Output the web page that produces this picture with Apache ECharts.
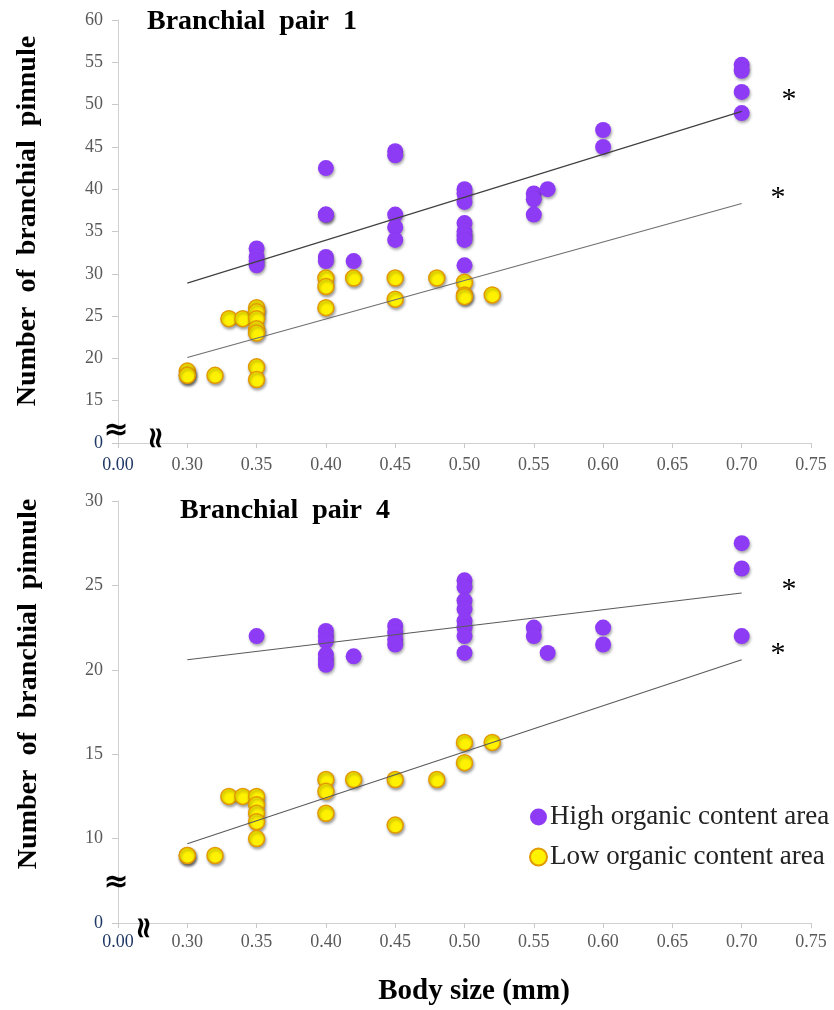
<!DOCTYPE html>
<html><head><meta charset="utf-8">
<script src="https://cdn.jsdelivr.net/npm/echarts@6/dist/echarts.min.js"></script>
<style>html,body{margin:0;padding:0;background:#fff}#c{width:834px;height:1010px}</style>
</head><body><div id="c"></div>
<script>
// ---------- data ----------
const seriesNames = ['High organic content area', 'Low organic content area'];

// Branchial pair 1 : [body size (mm), number of branchial pinnule]
const pair1High = [
  [0.35,33],[0.35,32],[0.35,31.5],[0.35,31],
  [0.40,42.5],[0.40,37],[0.40,37],[0.40,32],[0.40,31.5],
  [0.42,31.5],
  [0.45,44.5],[0.45,44],[0.45,37],[0.45,35.5],[0.45,34],
  [0.50,40],[0.50,39.5],[0.50,38.5],[0.50,36],[0.50,35],[0.50,34.5],[0.50,34],[0.50,31],
  [0.55,39.5],[0.55,38.8],[0.55,37],
  [0.56,40],
  [0.60,47],[0.60,45],
  [0.70,54.7],[0.70,54],[0.70,51.5],[0.70,49]
];
const pair1Low = [
  [0.30,18.5],[0.30,18],[0.30,18],
  [0.32,18],
  [0.33,24.7],[0.34,24.7],
  [0.35,26],[0.35,25.5],[0.35,24.7],[0.35,23.5],[0.35,23],[0.35,19],[0.35,17.5],
  [0.40,29.5],[0.40,28.5],[0.40,26],
  [0.42,29.5],
  [0.45,29.5],[0.45,27],
  [0.48,29.5],
  [0.50,29],[0.50,27.5],[0.50,27.3],
  [0.52,27.5]
];
const pair1HighTrend = [[0.30,28.9],[0.70,49.2]];
const pair1LowTrend  = [[0.30,20.1],[0.70,38.3]];

// Branchial pair 4
const pair4High = [
  [0.35,22],
  [0.40,22.3],[0.40,22],[0.40,21.7],[0.40,20.9],[0.40,20.6],[0.40,20.3],
  [0.42,20.8],
  [0.45,22.6],[0.45,22.2],[0.45,21.8],[0.45,21.5],
  [0.50,25.3],[0.50,24.9],[0.50,24.1],[0.50,23.6],[0.50,22.9],[0.50,22.5],[0.50,22],[0.50,21],
  [0.55,22.5],[0.55,22],
  [0.56,21],
  [0.60,22.5],[0.60,21.5],
  [0.70,27.5],[0.70,26],[0.70,22]
];
const pair4Low = [
  [0.30,9],[0.30,9],
  [0.32,9],
  [0.33,12.5],[0.34,12.5],
  [0.35,12.5],[0.35,12],[0.35,11.5],[0.35,11],[0.35,10],
  [0.40,13.5],[0.40,12.8],[0.40,11.5],
  [0.42,13.5],
  [0.45,13.5],[0.45,10.8],
  [0.48,13.5],
  [0.50,15.7],[0.50,14.5],
  [0.52,15.7]
];
const pair4HighTrend = [[0.30,20.6],[0.70,24.55]];
const pair4LowTrend  = [[0.30,9.7],[0.70,20.6]];

// axis ranges (the lowest tick stands for the broken "0" / "0.00")
const xRange = {min:0.25, max:0.75, interval:0.05, breakTick:0.25, breakLabel:'0.00'};
const y1Range = {min:10, max:60, interval:5, breakTick:10, breakLabel:'0'};
const y4Range = {min:5, max:30, interval:5, breakTick:5, breakLabel:'0'};

const titles = ['Branchial  pair  1', 'Branchial  pair  4'];
const yTitle = 'Number  of  branchial  pinnule';
const xTitle = 'Body size (mm)';

// ---------- chart ----------
const SERIF = "'Liberation Serif','Times New Roman',serif";
const PURPLE = '#8E3BF5', YELLOW = '#FFF200', ORANGE = '#E39A00';
const breakRich = {z:{color:'#203864', fontSize:18, fontFamily:SERIF}};

function xAxis(gi, margin){
  return {
    type:'value', gridIndex:gi, min:xRange.min, max:xRange.max, interval:xRange.interval,
    axisLine:{show:true, lineStyle:{color:'#d0d0d0', width:1}},
    axisTick:{show:true, length:5, lineStyle:{color:'#c8c8c8'}},
    splitLine:{show:false},
    axisLabel:{
      margin:margin, color:'#595959', fontSize:18, fontFamily:SERIF,
      formatter:v => Math.abs(v - xRange.breakTick) < 1e-6 ? '{z|' + xRange.breakLabel + '}' : v.toFixed(2),
      rich:breakRich
    }
  };
}
function yAxis(gi, r){
  return {
    type:'value', gridIndex:gi, min:r.min, max:r.max, interval:r.interval,
    axisLine:{show:true, lineStyle:{color:'#d0d0d0', width:1}},
    axisTick:{show:true, length:6, lineStyle:{color:'#c8c8c8'}},
    splitLine:{show:false},
    axisLabel:{
      margin:15, color:'#595959', fontSize:18, fontFamily:SERIF,
      formatter:v => Math.abs(v - r.breakTick) < 1e-6 ? '{z|' + r.breakLabel + '}' : String(v),
      rich:breakRich
    }
  };
}
const shadow = {shadowBlur:3, shadowOffsetX:1, shadowOffsetY:2, shadowColor:'rgba(0,0,0,0.35)'};
function scatter(name, data, gi, color, border){
  return {
    type:'scatter', name:name, xAxisIndex:gi, yAxisIndex:gi, data:data,
    symbol:'circle', symbolSize:16, z:2,
    itemStyle:Object.assign({color:color, borderColor:border || color, borderWidth:border ? 1.5 : 0, opacity:1}, shadow),
    emphasis:{disabled:true}
  };
}
function trend(data, gi, color){
  return {
    type:'line', xAxisIndex:gi, yAxisIndex:gi, data:data, showSymbol:false, symbol:'none',
    lineStyle:{color:color, width:1.1}, z:5, silent:true, animation:false
  };
}

const chart = echarts.init(document.getElementById('c'), null, {renderer:'canvas'});
const T = (text, x, y, font, extra) => Object.assign({
  type:'text', x:x, y:y, silent:true, z:100,
  style:{text:text, font:font, fill:'#000', align:'center', verticalAlign:'middle'}
}, extra || {});
const BREAK_FONT = "bold 30px 'DejaVu Sans'";

chart.setOption({
  animation:false,
  backgroundColor:'#fff',
  grid:[
    {left:118, right:23, top:20, height:423},
    {left:118, right:23, top:501, height:422}
  ],
  xAxis:[xAxis(0, 13), xAxis(1, 10)],
  yAxis:[yAxis(0, y1Range), yAxis(1, y4Range)],
  legend:{
    data:seriesNames.map(n => ({name:n, icon:'circle'})),
    orient:'vertical', left:524, top:797,
    itemWidth:17, itemHeight:17, itemGap:10,
    textStyle:{fontFamily:SERIF, fontSize:27, color:'#222', lineHeight:30, padding:[0,0,0,-2]},
    selectedMode:false
  },
  series:[
    scatter(seriesNames[0], pair1High, 0, PURPLE),
    scatter(seriesNames[1], pair1Low, 0, YELLOW, ORANGE),
    trend(pair1HighTrend, 0, '#404040'),
    trend(pair1LowTrend, 0, '#6e6e6e'),
    scatter(seriesNames[0], pair4High, 1, PURPLE),
    scatter(seriesNames[1], pair4Low, 1, YELLOW, ORANGE),
    trend(pair4HighTrend, 1, '#5a5a5a'),
    trend(pair4LowTrend, 1, '#5a5a5a')
  ],
  graphic:[
    T(titles[0], 147, 22, 'bold 28px ' + SERIF, {style:{text:titles[0], font:'bold 28px ' + SERIF, fill:'#000', align:'left', verticalAlign:'middle'}}),
    T(titles[1], 180, 511, 'bold 28px ' + SERIF, {style:{text:titles[1], font:'bold 28px ' + SERIF, fill:'#000', align:'left', verticalAlign:'middle'}}),
    T(yTitle, 28, 221, 'bold 28px ' + SERIF, {rotation:Math.PI/2}),
    T(yTitle, 29, 684, 'bold 28px ' + SERIF, {rotation:Math.PI/2}),
    T(xTitle, 474, 992, 'bold 29px ' + SERIF),
    T('\u2248', 116, 431, BREAK_FONT),
    T('\u2248', 116, 883, BREAK_FONT),
    T('\u2248', 157, 438, BREAK_FONT, {rotation:Math.PI/2}),
    T('\u2248', 145, 928, BREAK_FONT, {rotation:Math.PI/2}),
    T('*', 789, 100, '30px ' + SERIF),
    T('*', 778, 198, '30px ' + SERIF),
    T('*', 789, 590, '30px ' + SERIF),
    T('*', 778, 654, '30px ' + SERIF)
  ]
});
</script></body></html>
